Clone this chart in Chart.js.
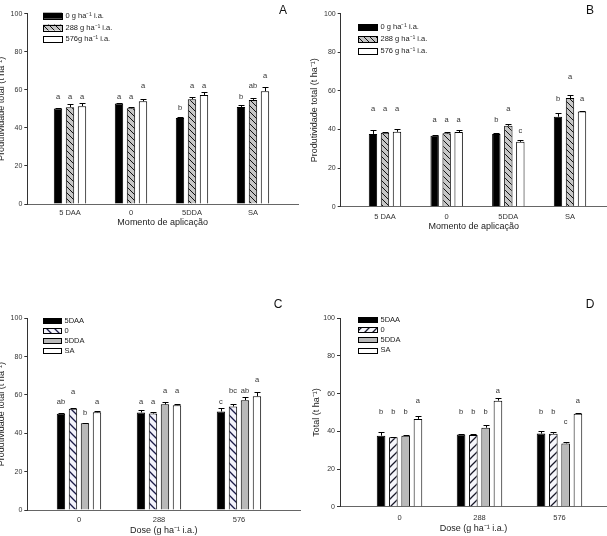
<!DOCTYPE html>
<html><head><meta charset="utf-8">
<script src="https://cdn.jsdelivr.net/npm/chart.js@4/dist/chart.umd.min.js"></script>
<style>
html,body{margin:0;padding:0;background:#fff;}
body{width:607px;height:536px;position:relative;overflow:hidden;}
canvas{position:absolute;display:block;}
</style></head><body>
<canvas id="cA" width="303" height="245" style="left:0;top:0"></canvas>
<canvas id="cB" width="304" height="245" style="left:303px;top:0"></canvas>
<canvas id="cC" width="303" height="246" style="left:0;top:290px"></canvas>
<canvas id="cD" width="304" height="246" style="left:303px;top:290px"></canvas>
<script>
// ---------- data ----------
const timingLabels = ['5 DAA', '0', '5DDA', 'SA'];
const doseTickLabels = ['0', '288', '576'];
const doseSeriesA = ['0 g ha\u207B\u00B9 i.a.', '288 g ha\u207B\u00B9 i.a.', '576g ha\u207B\u00B9 i.a.'];
const doseSeriesB = ['0 g ha\u207B\u00B9 i.a.', '288 g ha\u207B\u00B9 i.a.', '576 g ha\u207B\u00B9 i.a.'];
const timingSeries = ['5DAA', '0', '5DDA', 'SA'];

// Productivity (t/ha) by dose series, across timings [5DAA, 0, 5DDA, SA]
const prodDose0 = [50.2, 52.8, 45.2, 51.0];
const prodDose288 = [50.9, 50.3, 55.1, 54.7];
const prodDose576 = [51.4, 54.0, 57.3, 59.3];
const prodErr0 = [0.3, 0.4, 0.3, 0.9];
const prodErr288 = [1.5, 0.9, 1.0, 0.8];
const prodErr576 = [1.8, 1.3, 1.5, 2.1];

// Total (t/ha) by dose series, across timings
const totDose0 = [37.7, 36.8, 37.7, 46.6];
const totDose288 = [38.3, 38.0, 41.9, 56.3];
const totDose576 = [38.8, 38.7, 33.6, 49.3];
const totErr0 = [1.9, 0.2, 0.3, 1.8];
const totErr288 = [0.4, 0.6, 1.2, 1.5];
const totErr576 = [1.4, 0.8, 1.0, 0.3];

// significance letters (and their heights in t/ha)
const lettersA = [['a','a','b','b'], ['a','a','a','ab'], ['a','a','a','a']];
const letterLevelA = [[56.3,56.3,50.7,56.3], [56.3,56.3,62.1,62.1], [56.3,62.1,62.1,67.4]];
const lettersB = [['a','a','b','b'], ['a','a','a','a'], ['a','a','c','a']];
const letterLevelB = [[50.5,44.9,44.9,56.0], [50.5,44.9,50.5,67.0], [50.5,44.9,39.4,56.0]];
const lettersC = [['ab','a','c'], ['a','a','bc'], ['b','a','ab'], ['a','a','a']];
const letterLevelC = [[56.2,56.2,56.4], [61.8,56.2,62.1], [50.8,62.0,62.1], [56.2,62.0,67.6]];
const lettersD = [['b','b','b'], ['b','b','b'], ['b','b','c'], ['a','a','a']];
const letterLevelD = [[50.4,50.4,50.4], [50.4,50.4,50.4], [50.4,50.4,44.8], [56.1,61.6,56.1]];

// ---------- helpers ----------
const FONT = '"Liberation Sans", Arial, sans-serif';
function transpose(m){ return m[0].map((_,j)=>m.map(r=>r[j])); }
function hatch(bg, fg, dir, size, lw){
  const c = document.createElement('canvas'); c.width = size; c.height = size;
  const g = c.getContext('2d');
  g.fillStyle = bg; g.fillRect(0,0,size,size);
  g.strokeStyle = fg; g.lineWidth = lw; g.beginPath();
  if (dir === '\\'){
    g.moveTo(-2,-2); g.lineTo(size+2,size+2);
    g.moveTo(-2,size-2); g.lineTo(2,size+2);
    g.moveTo(size-2,-2); g.lineTo(size+2,2);
  } else {
    g.moveTo(-2,size+2); g.lineTo(size+2,-2);
    g.moveTo(-2,2); g.lineTo(2,-2);
    g.moveTo(size-2,size+2); g.lineTo(size+2,size-2);
  }
  g.stroke();
  return g.createPattern(c,'repeat');
}
const grayHatch = hatch('#c6c6c6', '#111', '\\', 6, 1);
const blueHatch = hatch('#f2f2fb', '#1c1c48', '\\', 8, 1.3);
const slashHatch = hatch('#f6f6fb', '#1a1a2a', '/', 8, 1.3);

const extras = {
  id: 'extras',
  afterDatasetsDraw(chart, args, o){
    const ctx = chart.ctx, ys = chart.scales.y;
    ctx.save();
    chart.data.datasets.forEach((ds, di) => {
      const meta = chart.getDatasetMeta(di);
      meta.data.forEach((bar, i) => {
        const v = ds.data[i].y, e = ds.errors[i];
        const x = Math.round(bar.x) + 0.5;
        const yt = Math.round(ys.getPixelForValue(v + e)) + 0.5;
        ctx.strokeStyle = '#000'; ctx.lineWidth = 1;
        ctx.beginPath();
        ctx.moveTo(x, bar.y); ctx.lineTo(x, yt);
        ctx.moveTo(x - 3, yt); ctx.lineTo(x + 3, yt);
        ctx.stroke();
        ctx.fillStyle = '#333'; ctx.font = '7.5px ' + FONT;
        ctx.textAlign = 'center'; ctx.textBaseline = 'middle';
        ctx.fillText(ds.letters[i], bar.x, ys.getPixelForValue(ds.letterLevels[i]));
      });
    });
    // legend
    const L = o.legend;
    chart.data.datasets.forEach((ds, di) => {
      const cy = L.y + di * L.row;
      ctx.fillStyle = ds.backgroundColor;
      ctx.fillRect(L.x, cy - L.h/2, L.w, L.h);
      ctx.strokeStyle = '#000'; ctx.lineWidth = 1;
      ctx.strokeRect(L.x + 0.5, Math.round(cy - L.h/2) + 0.5, L.w, L.h);
      ctx.fillStyle = '#222'; ctx.font = '7.5px ' + FONT;
      ctx.textAlign = 'left'; ctx.textBaseline = 'middle';
      ctx.fillText(ds.label, L.x + L.w + 3.5, cy);
    });
    // panel letter
    ctx.fillStyle = '#111'; ctx.font = '12px ' + FONT;
    ctx.textAlign = 'center'; ctx.textBaseline = 'middle';
    ctx.fillText(o.panel, o.px, o.py);
    ctx.restore();
  }
};

function makePanel(id, g, seriesNames, values, errors, letters, levels, colors, tickLabels, xTitle, yTitle){
  const H = document.getElementById(id).height;
  const datasets = seriesNames.map((name, k) => ({
    label: name,
    data: values[k].map((v, i) => ({x: i + 1, y: v})),
    errors: errors[k], letters: letters[k], letterLevels: levels[k],
    backgroundColor: colors[k], borderColor: '#000', borderWidth: 1,
    categoryPercentage: g.cat, barPercentage: g.barP
  }));
  return new Chart(document.getElementById(id), {
    type: 'bar',
    data: { datasets },
    plugins: [extras],
    options: {
      responsive: false, animation: false,
      layout: { padding: { left: 0, top: g.top, right: g.padR, bottom: 0 } },
      plugins: {
        legend: { display: false }, tooltip: { enabled: false },
        extras: { legend: g.legend, panel: g.panel, px: g.px, py: g.py }
      },
      scales: {
        x: {
          type: 'linear', bounds: 'data', min: g.xmin, max: g.xmax, offset: false,
          afterBuildTicks(s){ s.ticks = tickLabels.map((_, i) => ({ value: i + 1 })); },
          afterFit(s){ s.height = H - g.bottom; },
          ticks: { callback: v => tickLabels[v - 1], font: { size: 7.5, family: FONT }, color: '#333', padding: g.tpad, autoSkip: false, maxRotation: 0 },
          grid: { display: false, drawTicks: false },
          border: { display: true, color: '#666', width: 1 },
          title: { display: true, text: xTitle, color: '#222', font: { size: 9, family: FONT }, padding: { top: 0, bottom: g.xtb } }
        },
        y: {
          min: 0, max: 100,
          afterFit(s){ s.width = g.left; },
          ticks: { stepSize: 20, font: { size: 7, family: FONT }, color: '#333', padding: 2 },
          grid: { display: true, drawOnChartArea: false, drawTicks: true, tickLength: 3, color: '#333' },
          border: { display: true, color: '#333', width: 1 },
          title: { display: true, text: yTitle, color: '#222', font: { size: 9, family: FONT }, padding: { top: g.ytp, bottom: 0 } }
        }
      }
    }
  });
}

const yTitleProd = 'Produtividade total (t ha\u207B\u00B9)';
const doseTitle = 'Dose (g ha\u207B\u00B9 i.a.)';

makePanel('cA',
  { left: 27.3, top: 13.7, padR: 5, bottom: 204, xmin: 0.3, xmax: 4.738, cat: 0.59, barP: 0.7, tpad: 4.5, xtb: 16.9, ytp: -3.4,
    legend: { x: 43, y: 15.7, row: 11.8, w: 19, h: 6 }, panel: 'A', px: 283, py: 11 },
  doseSeriesA, [prodDose0, prodDose288, prodDose576], [prodErr0, prodErr288, prodErr576],
  lettersA, letterLevelA, ['#000', grayHatch, '#fff'], timingLabels, 'Momento de aplicação', yTitleProd);

makePanel('cB',
  { left: 37.7, top: 13.7, padR: 0, bottom: 206.7, xmin: 0.282, xmax: 4.6, cat: 0.584, barP: 0.7, tpad: 5.5, xtb: 12.9, ytp: 6.6,
    legend: { x: 55, y: 27, row: 12, w: 19, h: 6 }, panel: 'B', px: 287, py: 11 },
  doseSeriesB, [totDose0, totDose288, totDose576], [totErr0, totErr288, totErr576],
  lettersB, letterLevelB, ['#000', grayHatch, '#fff'], timingLabels, 'Momento de aplicação', yTitleProd);

makePanel('cC',
  { left: 27.3, top: 28.3, padR: 3, bottom: 220, xmin: 0.354, xmax: 3.763, cat: 0.6, barP: 0.7, tpad: 5.5, xtb: 0, ytp: -3.4,
    legend: { x: 43, y: 30.7, row: 10, w: 18, h: 5 }, panel: 'C', px: 278, py: 15 },
  timingSeries, transpose([prodDose0, prodDose288, prodDose576]), transpose([prodErr0, prodErr288, prodErr576]),
  lettersC, letterLevelC, ['#000', blueHatch, '#b9b9b9', '#fff'], doseTickLabels, doseTitle, yTitleProd);

makePanel('cD',
  { left: 37, top: 28.3, padR: 0, bottom: 216.7, xmin: 0.256, xmax: 3.594, cat: 0.615, barP: 0.7, tpad: 7, xtb: 2.3, ytp: 8.6,
    legend: { x: 55, y: 29.5, row: 10.2, w: 19, h: 5 }, panel: 'D', px: 287, py: 15 },
  timingSeries, transpose([totDose0, totDose288, totDose576]), transpose([totErr0, totErr288, totErr576]),
  lettersD, letterLevelD, ['#000', slashHatch, '#b9b9b9', '#fff'], doseTickLabels, doseTitle, 'Total (t ha\u207B\u00B9)');
</script>
</body></html>
